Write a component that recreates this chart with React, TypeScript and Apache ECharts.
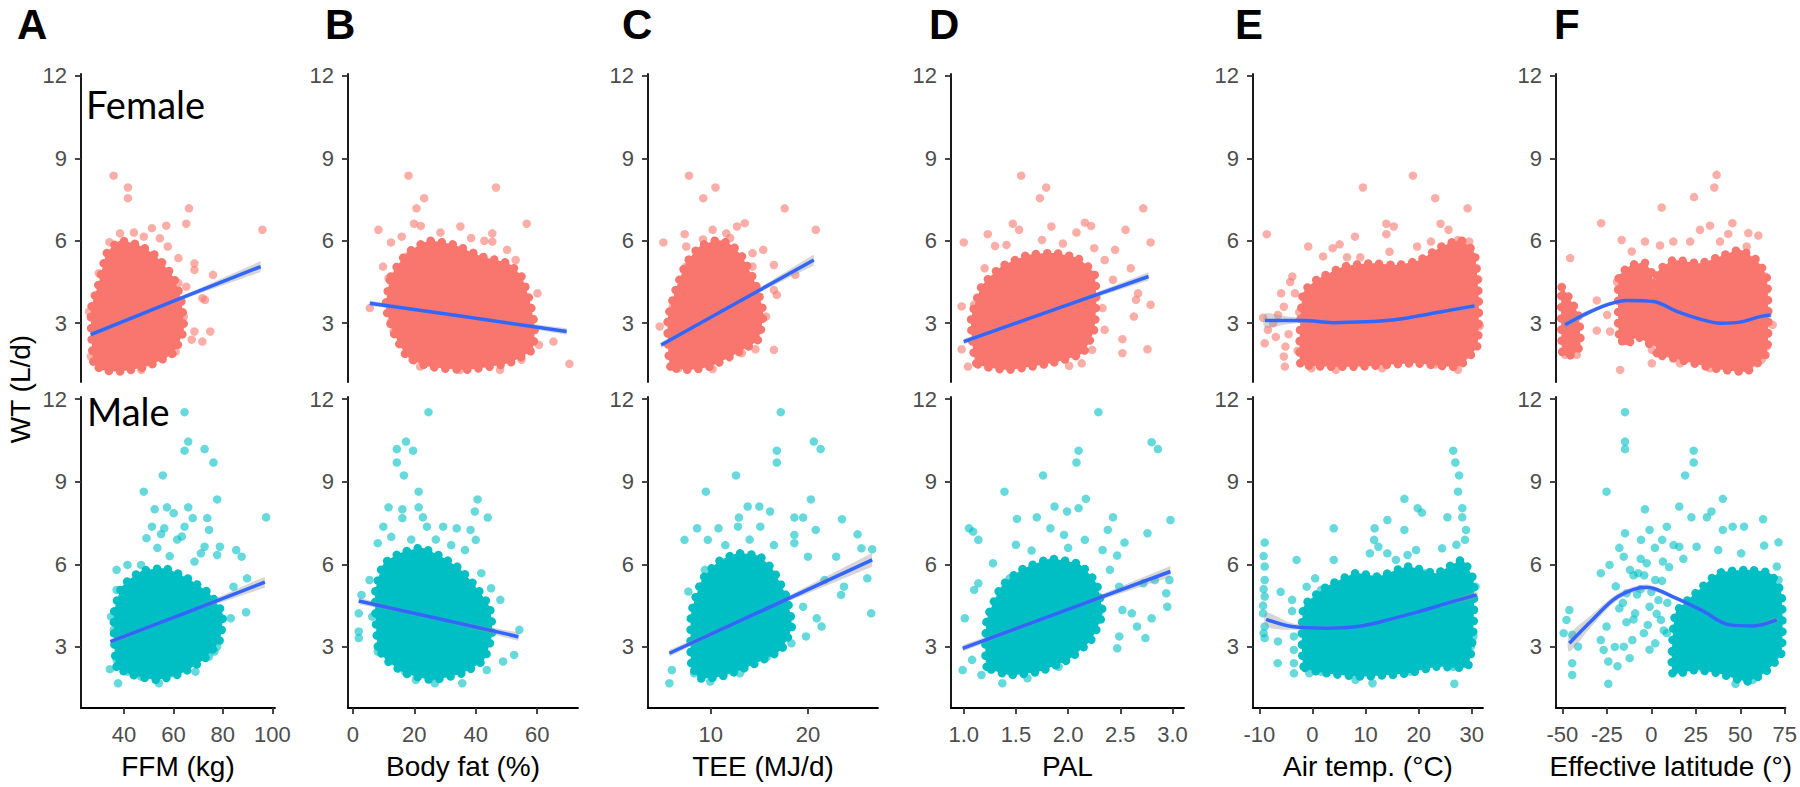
import React, { useEffect, useRef } from "react";
import * as echarts from "echarts";

// ---------- tick labels ----------
const ticksFFM = [40, 60, 80, 100];
const ticksBF = [0, 20, 40, 60];
const ticksTEE = [10, 20];
const ticksPAL = [1.0, 1.5, 2.0, 2.5, 3.0];
const ticksTemp = [-10, 0, 10, 20, 30];
const ticksLat = [-50, -25, 0, 25, 50, 75];
const ticksWT = [3, 6, 9, 12];
const xNames = ["FFM (kg)", "Body fat (%)", "TEE (MJ/d)", "PAL", "Air temp. (\u00B0C)", "Effective latitude (\u00B0)"];
const panelLetters = ["A", "B", "C", "D", "E", "F"];

// ---------- Female ----------
const fFfmPts = [[35.8,8.37],[41.6,7.94],[41.6,7.55],[66.3,7.18],[65.2,6.62],[96.0,6.4],[51.3,6.46],[57.1,6.55],[38.4,6.27],[34.1,5.95],[54.5,6.09],[62.0,5.37],[68.5,5.18],[68.5,4.94],[76.0,4.76],[62.0,4.46],[71.7,3.91],[72.8,3.85],[68.5,2.7],[74.9,2.7],[71.7,2.33],[67.4,2.4],[60.9,1.97],[25.9,3.42],[27.6,2.82],[26.6,1.79],[47.0,1.3],[38.4,1.3],[31.9,1.48],[64.2,3.24],[65.2,4.33],[57.7,5.79],[48.0,6.15],[29.8,4.82],[55.5,5.2],[58.5,2.6],[44.0,6.3]];
const fFfmCore = [[[27.6,1.6],[26.6,3.49],[29.8,4.45],[33.0,5.55],[38.4,6.0],[45.9,5.85],[52.3,5.5],[59.9,4.7],[63.1,3.85],[64.2,2.76],[59.9,1.91],[49.1,1.42],[38.4,1.24],[30.9,1.3]]];
const fFfmFit = [[26.5,2.58,0.12],[60,3.8,0.05],[95.3,5.06,0.2]];

const fBfPts = [[18.1,8.37],[46.6,7.94],[23.2,7.55],[20.7,7.18],[19.9,6.62],[22.1,6.54],[35.0,6.52],[56.6,6.62],[8.3,6.4],[15.9,6.15],[12.4,5.94],[45.4,6.27],[45.4,5.97],[42.8,6.0],[50.2,5.67],[17.6,5.43],[9.8,5.06],[11.6,4.64],[13.3,4.27],[60.1,4.09],[5.5,3.55],[12.4,3.06],[13.3,2.7],[15.9,2.27],[65.3,2.33],[60.6,2.21],[70.5,1.52],[19.4,1.67],[21.9,1.42],[34.9,1.3],[47.9,1.3],[54.9,1.67],[28.5,6.3],[38.5,6.1],[53.0,5.3]];
const fBfCore = [[[12.4,4.7],[17.6,5.55],[24.6,6.0],[33.2,5.85],[41.9,5.43],[50.6,5.18],[54.9,4.7],[57.5,3.85],[59.2,2.88],[58.4,2.03],[50.6,1.54],[36.7,1.3],[24.6,1.42],[17.6,1.79],[13.3,2.64],[10.7,3.6]]];
const fBfFit = [[5.5,3.73,0.1],[35,3.26,0.04],[69.6,2.7,0.12]];

const fTeePts = [[7.76,8.37],[10.49,7.94],[9.23,7.55],[17.6,7.18],[20.8,6.4],[5.13,5.94],[7.32,6.24],[7.48,5.79],[10.2,6.4],[13.5,6.64],[12.7,6.52],[11.6,6.27],[15.4,5.67],[14.3,5.55],[16.5,5.12],[14.3,5.06],[18.7,4.76],[7.48,5.06],[16.5,4.21],[16.8,4.03],[6.12,3.61],[4.75,2.88],[16.5,2.03],[14.6,2.05],[13.2,1.91],[6.67,1.36],[10.2,1.33],[15.7,3.24],[12.0,6.1],[9.2,6.05]];
const fTeeCore = [[[5.85,1.42],[5.57,3.12],[6.39,4.21],[7.48,5.18],[8.85,5.79],[10.76,6.03],[12.13,5.85],[13.22,5.43],[14.59,4.46],[15.41,3.36],[14.86,2.39],[12.68,1.91],[9.94,1.42],[7.76,1.3]]];
const fTeeFit = [[4.9,2.21,0.1],[12.5,3.71,0.04],[20.6,5.3,0.2]];

const fPalPts = [[1.55,8.37],[1.79,7.94],[1.73,7.55],[2.72,7.18],[1.47,6.62],[1.53,6.4],[1.23,6.24],[1.0,5.94],[1.3,5.81],[1.41,5.85],[1.75,6.03],[1.84,6.52],[2.08,6.3],[2.16,6.66],[2.22,6.54],[2.55,6.4],[2.79,5.94],[2.45,5.67],[2.25,5.73],[1.2,5.0],[2.6,5.0],[2.43,4.58],[2.67,4.09],[2.33,3.55],[2.65,3.85],[2.79,3.67],[0.98,3.61],[1.1,3.67],[2.63,3.24],[2.52,2.42],[2.52,1.91],[2.76,2.05],[0.98,2.05],[1.04,1.42],[2.01,1.45],[2.13,1.54],[2.23,2.03],[2.35,2.76],[2.35,5.3],[1.95,5.9]];
const fPalCore = [[[1.12,1.54],[1.07,3.12],[1.17,4.33],[1.36,5.06],[1.62,5.49],[1.88,5.55],[2.09,5.37],[2.25,4.82],[2.27,3.85],[2.25,2.76],[2.14,1.91],[1.83,1.54],[1.41,1.3]]];
const fPalFit = [[1.0,2.33,0.1],[1.9,3.54,0.04],[2.77,4.7,0.15]];

const fTempPts = [[9.5,7.94],[18.9,8.37],[23.1,7.55],[29.2,7.18],[13.9,6.62],[15.3,6.52],[13.9,6.24],[8.0,6.15],[5.1,5.87],[3.8,5.73],[2.0,5.43],[-0.8,5.79],[24.1,6.62],[25.6,6.4],[22.3,5.97],[19.7,5.79],[27.4,6.03],[29.5,5.97],[-0.2,1.36],[4.4,1.3],[13.1,1.36],[27.4,1.3],[-5.2,1.42],[23.0,1.5],[-8.6,6.24],[-9.0,2.27],[-8.4,2.76],[-7.4,3.0],[-6.5,3.3],[-5.4,1.79],[-5.1,2.15],[-3.8,4.7],[-3.3,4.09],[-5.9,4.09],[-5.4,3.6],[-6.9,2.5],[-4.5,2.6],[-2.5,3.4],[-2.8,2.0],[-9.3,3.2],[-4.2,4.5],[31.5,2.9],[31.2,4.6],[9.0,5.4],[14.5,5.6],[6.5,5.4]];
const fTempCore = [[[-2.3,1.54],[-1.8,4.09],[0.77,4.58],[5.9,5.06],[11.0,5.18],[16.1,5.12],[20.2,5.3],[24.3,5.79],[27.9,6.03],[30.5,5.55],[31.3,3.85],[31.0,2.15],[27.4,1.42],[19.2,1.54],[9.0,1.42],[1.8,1.42]]];
const fTempFit = [[-8.96,3.1,0.25],[-5,3.1,0.15],[-1.79,3.1,0.08],[3.85,3.02,0.05],[10.0,3.05,0.05],[15.1,3.12,0.05],[19.2,3.24,0.05],[24.3,3.42,0.06],[30.5,3.63,0.1]];

const fLatPts = [[36.1,8.4],[34.8,7.94],[23.5,7.59],[5.4,7.21],[-28.4,6.64],[-45.7,5.37],[-16.9,6.03],[-11.3,5.61],[-3.9,5.97],[4.5,5.83],[11.9,5.97],[21.3,5.97],[26.8,6.4],[32.4,6.55],[38.0,5.97],[44.9,6.64],[42.6,6.25],[53.8,6.28],[59.4,6.19],[52.9,5.79],[-30.8,3.83],[-30.8,2.73],[-23.4,2.7],[-9.4,2.7],[-0.1,2.03],[-0.1,1.54],[15.7,1.54],[-17.8,1.3],[32.4,1.36],[53.8,1.3],[61.2,1.67],[64.0,2.15],[67.4,2.94],[63.1,4.7],[64.0,4.21],[-48.5,1.85],[-42.0,1.85],[-50.4,4.33],[-19.5,4.5],[-19.0,3.0],[-13.0,4.2],[-8.0,3.6],[-2.0,3.0],[-25.0,3.3]];
const fLatCore = [
  [[2.7,1.91],[2.7,4.82],[12.0,5.3],[26.8,5.18],[38.0,5.43],[49.2,5.67],[58.4,5.3],[64.0,4.7],[65.0,3.36],[64.0,1.91],[52.9,1.24],[34.3,1.36],[15.7,1.67]],
  [[-50.4,4.3],[-46,3.9],[-41,3.3],[-40,2.2],[-44,1.85],[-50,1.85]],
  [[-18.5,2.6],[-18.5,4.7],[-12,5.1],[-4,5.2],[0,4.8],[0.5,2.2],[-8,2.5],[-15,2.2]],
];
const fLatFit = [[-48.5,2.94,0.15],[-38.3,3.3,0.1],[-25.2,3.67,0.07],[-14.1,3.83,0.06],[0.8,3.79,0.06],[13.8,3.43,0.05],[26.8,3.15,0.04],[38.0,3.0,0.04],[49.1,3.04,0.04],[60.3,3.24,0.06],[66.3,3.3,0.12]];

// ---------- Male ----------
const mFfmPts = [[64.5,11.53],[66.0,10.46],[64.5,10.13],[72.6,10.19],[76.2,9.7],[55.7,9.23],[48.0,8.64],[77.7,8.36],[52.4,8.0],[57.4,8.07],[66.0,8.07],[60.1,7.86],[97.5,7.71],[73.7,7.68],[67.8,7.68],[51.3,7.37],[56.3,7.31],[64.5,7.37],[74.4,7.25],[49.1,6.95],[63.4,7.01],[72.6,6.64],[78.8,6.64],[85.4,6.52],[87.6,6.28],[77.7,6.34],[71.1,6.4],[41.4,5.98],[37.0,5.8],[46.9,5.98],[37.0,5.07],[34.8,4.1],[35.9,3.62],[89.8,5.49],[84.3,5.19],[89.4,4.26],[83.2,4.04],[77.7,3.01],[76.6,2.83],[37.0,2.53],[34.3,2.19],[41.4,2.1],[37.6,1.68],[54.1,1.68],[46.9,1.92],[68.9,2.1],[74.4,2.65],[59.0,2.04],[53.5,6.6],[58.5,6.3],[61.5,6.9],[55.0,7.1],[68.5,6.1]];
const mFfmCore = [[[37.0,2.28],[35.9,4.22],[39.2,5.19],[46.9,5.75],[56.8,5.85],[65.6,5.5],[74.4,4.95],[79.9,4.22],[78.8,3.25],[72.2,2.53],[63.4,2.04],[53.5,1.8],[43.6,1.98]]];
const mFfmFit = [[34.5,3.19,0.1],[65,4.24,0.05],[97,5.35,0.2]];

const mBfPts = [[24.6,11.53],[17.3,10.46],[19.6,10.13],[14.3,10.19],[14.3,9.7],[16.6,9.23],[21.4,8.64],[40.6,8.36],[11.6,8.07],[16.1,8.0],[21.4,8.07],[39.7,7.92],[43.9,7.7],[16.1,7.68],[22.8,7.71],[9.9,7.37],[29.4,7.37],[33.8,7.31],[38.3,7.25],[24.1,7.37],[40.0,6.89],[8.1,6.77],[36.5,6.52],[41.8,5.68],[48.0,4.71],[45.0,5.13],[5.4,5.43],[2.8,4.89],[1.9,4.22],[1.9,3.56],[1.9,3.32],[6.3,4.1],[54.2,3.62],[52.5,2.71],[48.9,2.47],[43.6,2.16],[17.0,2.1],[20.5,1.8],[26.7,1.68],[35.6,1.68],[8.1,2.83],[12.5,7.0],[19.0,6.9],[27.0,6.9],[32.0,6.7]];
const mBfCore = [[[8.1,3.01],[7.2,4.95],[9.9,6.0],[15.2,6.4],[22.3,6.6],[28.5,6.3],[34.7,5.85],[40.0,5.19],[44.5,4.46],[45.4,3.5],[42.7,2.53],[35.6,2.04],[25.8,1.8],[17.0,2.04],[10.8,2.53]]];
const mBfFit = [[1.9,4.67,0.12],[28,4.02,0.05],[53.9,3.37,0.15]];

const mTeePts = [[17.2,11.53],[16.8,10.13],[16.8,9.7],[20.6,10.46],[21.3,10.19],[12.6,9.23],[9.5,8.64],[20.3,8.36],[13.8,8.1],[15.0,8.1],[16.1,7.92],[12.9,7.7],[18.6,7.7],[19.5,7.7],[23.5,7.64],[8.6,7.31],[10.8,7.31],[12.8,7.37],[15.1,7.37],[20.8,7.25],[7.3,6.89],[9.7,6.89],[18.6,7.07],[25.1,7.09],[18.6,6.77],[20.0,6.28],[25.5,6.58],[26.6,6.55],[22.9,6.28],[9.4,5.8],[7.7,5.01],[21.7,5.43],[23.7,5.19],[26.1,5.49],[23.4,4.89],[26.5,4.22],[19.5,4.46],[20.9,4.04],[21.4,3.74],[19.8,3.38],[18.3,3.13],[15.8,2.65],[13.0,2.04],[6.0,2.16],[5.75,1.68],[9.95,1.74],[8.3,2.04],[14.0,6.9],[16.5,6.7],[11.5,6.7]];
const mTeeCore = [[[7.99,2.41],[7.99,4.22],[9.11,5.44],[10.79,6.1],[12.75,6.4],[14.99,6.3],[16.39,5.8],[17.79,4.83],[18.35,3.74],[17.23,2.89],[13.87,2.28],[11.07,1.92],[8.83,1.86]]];
const mTeeFit = [[5.75,2.77,0.12],[15,4.27,0.05],[26.6,6.16,0.25]];

const mPalPts = [[2.29,11.53],[2.1,10.13],[2.08,9.7],[2.8,10.44],[2.86,10.19],[1.76,9.23],[1.39,8.64],[2.17,8.38],[2.1,8.04],[1.99,7.92],[1.87,8.1],[2.43,7.71],[2.98,7.61],[1.51,7.65],[1.7,7.71],[1.05,7.31],[1.09,7.19],[1.14,6.89],[1.83,7.31],[2.38,7.25],[2.76,7.13],[2.54,6.79],[1.96,7.07],[2.16,6.89],[1.5,6.71],[2.47,6.32],[2.33,6.52],[1.28,6.04],[1.44,5.49],[1.14,5.31],[1.1,5.07],[1.01,4.04],[2.49,5.19],[2.83,5.43],[2.94,4.95],[2.97,5.43],[2.72,5.31],[2.52,4.34],[2.61,4.22],[2.66,3.74],[2.8,4.04],[2.49,3.38],[2.47,2.95],[2.74,3.32],[2.95,4.46],[0.99,2.16],[1.17,1.98],[1.37,1.68],[1.61,1.86],[1.91,2.28],[1.08,2.53],[1.65,6.5],[2.0,6.6],[2.4,5.8]];
const mPalCore = [[[1.22,2.28],[1.22,3.98],[1.36,5.19],[1.55,5.8],[1.83,6.2],[2.11,6.0],[2.27,5.31],[2.33,4.22],[2.22,3.25],[2.0,2.53],[1.72,2.1],[1.44,1.98]]];
const mPalFit = [[0.99,2.95,0.12],[2.0,4.36,0.05],[2.98,5.74,0.2]];

const mTempPts = [[26.5,10.13],[26.9,9.7],[27.6,9.23],[27.4,8.64],[28.2,8.04],[25.4,7.71],[28.2,7.71],[28.9,7.25],[17.3,8.38],[19.8,8.04],[20.6,7.88],[14.1,7.61],[17.3,7.25],[11.7,7.31],[4.0,7.31],[11.6,6.89],[12.4,6.64],[10.8,6.4],[14.1,6.4],[15.7,6.16],[17.9,6.34],[19.5,6.52],[24.4,6.58],[27.1,6.71],[28.7,6.89],[-3.0,6.16],[4.0,6.16],[0.5,5.49],[1.6,5.07],[21.1,5.68],[25.4,5.68],[30.7,5.19],[30.3,3.38],[29.8,3.01],[26.5,2.28],[26.7,1.66],[21.1,2.53],[18.4,2.1],[15.1,1.98],[11.3,1.68],[8.1,1.8],[4.0,2.28],[1.6,2.1],[-0.6,2.04],[-6.55,2.41],[-9.0,6.79],[-9.0,5.92],[-9.0,5.43],[-9.0,4.83],[-9.3,4.22],[-9.0,3.74],[-9.0,3.32],[-3.84,4.71],[-3.84,4.3],[-3.5,3.38],[-3.5,2.89],[-3.5,2.41],[-3.5,2.04],[-1.1,5.19],[-6.0,5.0],[-6.5,3.2],[-9.2,6.3],[-9.2,5.1],[-9.3,4.5],[-9.2,3.5]];
const mTempCore = [[[-1.67,2.28],[-1.67,4.46],[2.67,5.19],[8.1,5.68],[12.4,5.56],[17.9,5.92],[23.3,5.68],[28.2,6.16],[30.3,5.43],[30.3,3.62],[29.2,2.28],[23.3,2.28],[17.9,2.04],[9.2,1.92],[2.67,2.04]]];
const mTempFit = [[-8.72,4.0,0.25],[-3.84,3.74,0.12],[2.67,3.68,0.06],[9.18,3.76,0.05],[14.6,4.0,0.05],[20.0,4.28,0.05],[25.4,4.59,0.07],[30.9,4.89,0.12]];

const mLatPts = [[-14.8,11.53],[-14.8,10.46],[-14.8,10.19],[23.8,10.13],[23.8,9.7],[19.0,9.23],[-25.2,8.64],[-3.6,8.0],[15.7,8.1],[33.8,7.92],[40.2,8.38],[22.5,7.71],[31.2,7.71],[62.8,7.64],[45.7,7.37],[52.1,7.37],[40.2,7.25],[-14.8,7.13],[-1.0,7.25],[8.7,7.37],[-5.8,6.89],[6.1,6.89],[15.7,6.64],[25.4,6.64],[37.6,6.52],[50.5,6.4],[63.4,6.68],[71.5,6.8],[70.5,5.92],[71.5,5.43],[-28.4,5.68],[-15.5,6.28],[-23.5,5.98],[-2.6,6.04],[-7.4,5.68],[2.2,5.43],[-13.9,4.95],[-1.0,4.46],[-9.1,4.22],[5.4,3.98],[-4.2,3.5],[2.2,3.13],[8.7,3.5],[-10.7,3.25],[-25.2,3.74],[-28.4,3.25],[-26.8,2.89],[-24.2,2.47],[-24.2,1.66],[-15.5,3.01],[-12.2,2.59],[-46.1,4.34],[-47.7,3.98],[-44.5,3.44],[-41.2,3.01],[-44.5,2.41],[-44.5,1.98],[-49.3,3.5],[11.9,2.83],[16.7,2.47],[47.3,1.66],[57.0,1.8],[69.8,3.38],[-6.0,5.1],[4.0,4.7],[-18.0,4.4],[-10.0,5.6],[6.5,6.1],[-20.0,5.2],[-16.0,4.6],[-12.0,5.8],[-8.0,4.9],[-4.0,5.6],[0.0,5.0],[3.0,4.2],[6.0,5.4],[9.0,4.6],[-2.0,3.8],[-14.0,3.9],[-6.0,6.2],[2.0,6.6],[-18.0,6.6],[10.0,5.9],[-10.0,4.0],[7.0,3.6],[-20.5,3.0],[-19.0,2.3],[-1.0,2.9],[12.5,6.7],[18.0,6.2]];
const mLatCore = [[[11.9,2.04],[13.5,4.22],[24.8,4.95],[37.6,5.68],[53.7,5.8],[66.6,5.68],[73.1,4.95],[73.1,2.77],[63.4,2.04],[53.7,1.74],[37.6,2.04],[24.8,2.16]]];
const mLatFit = [[-46.1,3.13,0.3],[-33.2,3.98,0.2],[-18.7,4.83,0.12],[-2.6,5.17,0.1],[11.9,4.83,0.07],[28.0,4.34,0.06],[44.1,3.8,0.05],[57.0,3.76,0.05],[70.5,3.98,0.1]];

// ---------- layout ----------
const FONT = "Liberation Sans, Arial, Helvetica, sans-serif";
const FEMALE = "#F8766D";
const MALE = "#00BFC4";
const cols = [
  { left: 81, width: 194, min: 22.6, max: 101.1, ticks: ticksFFM, dec: 0 },
  { left: 348, width: 230, min: -1.6, max: 73.3, ticks: ticksBF, dec: 0 },
  { left: 648, width: 230, min: 3.55, max: 27.2, ticks: ticksTEE, dec: 0 },
  { left: 951, width: 233, min: 0.878, max: 3.11, ticks: ticksPAL, dec: 1 },
  { left: 1253, width: 230, min: -11.2, max: 32.1, ticks: ticksTemp, dec: 0 },
  { left: 1556, width: 231, min: -53.6, max: 75.4, ticks: ticksLat, dec: 0 },
];
const rows = [
  { top: 74, height: 308, min: 0.86, max: 12.07 },
  { top: 397, height: 311, min: 0.78, max: 12.08 },
];

const panels = [
  { pts: fFfmPts, core: fFfmCore, fit: fFfmFit, smooth: false },
  { pts: fBfPts, core: fBfCore, fit: fBfFit, smooth: false },
  { pts: fTeePts, core: fTeeCore, fit: fTeeFit, smooth: false },
  { pts: fPalPts, core: fPalCore, fit: fPalFit, smooth: false },
  { pts: fTempPts, core: fTempCore, fit: fTempFit, smooth: true },
  { pts: fLatPts, core: fLatCore, fit: fLatFit, smooth: true },
  { pts: mFfmPts, core: mFfmCore, fit: mFfmFit, smooth: false },
  { pts: mBfPts, core: mBfCore, fit: mBfFit, smooth: false },
  { pts: mTeePts, core: mTeeCore, fit: mTeeFit, smooth: false },
  { pts: mPalPts, core: mPalCore, fit: mPalFit, smooth: false },
  { pts: mTempPts, core: mTempCore, fit: mTempFit, smooth: true },
  { pts: mLatPts, core: mLatCore, fit: mLatFit, smooth: true },
];

function buildOption() {
  const grid: any[] = [];
  const xAxis: any[] = [];
  const yAxis: any[] = [];
  const series: any[] = [];
  panels.forEach((p, i) => {
    const r = Math.floor(i / 6);
    const c = i % 6;
    const col = cols[c];
    const row = rows[r];
    const color = r === 0 ? FEMALE : MALE;
    grid.push({ left: col.left, top: row.top, width: col.width, height: row.height, containLabel: false });
    const bottom = r === 1;
    xAxis.push({
      type: "value",
      gridIndex: i,
      min: col.min,
      max: col.max,
      show: bottom,
      name: bottom ? xNames[c] : "",
      nameLocation: "middle",
      nameGap: 44,
      nameTextStyle: { fontFamily: FONT, fontSize: 28, color: "#000" },
      axisLine: { show: true, onZero: false, lineStyle: { color: "#000", width: 1.8 } },
      axisTick: { show: true, length: 6, customValues: col.ticks, lineStyle: { color: "#333", width: 1.8 } },
      axisLabel: {
        show: true,
        customValues: col.ticks,
        margin: 15,
        fontFamily: FONT,
        fontSize: 22,
        color: "#4D4D4D",
        formatter: (v: number) => v.toFixed(col.dec),
      },
      splitLine: { show: false },
    });
    yAxis.push({
      type: "value",
      gridIndex: i,
      min: row.min,
      max: row.max,
      axisLine: { show: true, onZero: false, lineStyle: { color: "#000", width: 1.8 } },
      axisTick: { show: true, length: 6, customValues: ticksWT, lineStyle: { color: "#333", width: 1.8 } },
      axisLabel: { show: true, customValues: ticksWT, margin: 14, fontFamily: FONT, fontSize: 22, color: "#4D4D4D" },
      splitLine: { show: false },
    });
    const core = p.core;
    series.push({
      type: "custom",
      xAxisIndex: i,
      yAxisIndex: i,
      silent: true,
      z: 1,
      data: core.map((poly, k) => [poly[0][0], poly[0][1], k]),
      renderItem: (params: any, api: any) => {
        const poly = core[api.value(2)];
        return {
          type: "polygon",
          shape: { points: poly.map((q) => api.coord(q)), smooth: 0.15 },
          style: {
            fill: color,
            stroke: color,
            lineWidth: 8.5,
            lineDash: [0.1, 11],
            lineCap: "round",
            lineJoin: "round",
            opacity: 1,
          },
        };
      },
    });
    series.push({
      type: "scatter",
      xAxisIndex: i,
      yAxisIndex: i,
      z: 2,
      silent: true,
      symbolSize: 8.5,
      data: p.pts,
      itemStyle: { color, opacity: 0.6 },
    });
    const fit = p.fit;
    series.push({
      type: "custom",
      xAxisIndex: i,
      yAxisIndex: i,
      silent: true,
      z: 3,
      data: [[fit[0][0], fit[0][1]]],
      renderItem: (params: any, api: any) => {
        const up = fit.map((f) => api.coord([f[0], f[1] + f[2]]));
        const lo = fit.map((f) => api.coord([f[0], f[1] - f[2]])).reverse();
        return {
          type: "polygon",
          shape: { points: up.concat(lo), smooth: p.smooth ? 0.3 : 0 },
          style: { fill: "#999999", opacity: 0.4 },
        };
      },
    });
    series.push({
      type: "line",
      xAxisIndex: i,
      yAxisIndex: i,
      z: 4,
      silent: true,
      symbol: "none",
      smooth: p.smooth ? 0.35 : false,
      data: fit.map((f) => [f[0], f[1]]),
      lineStyle: { color: "#3366FF", width: 3.5 },
    });
  });

  const letterX = [17, 325, 622, 929, 1235, 1554];
  const graphic: any[] = panelLetters.map((L, k) => ({
    type: "text",
    x: letterX[k],
    y: 24,
    style: { text: L, fontFamily: FONT, fontSize: 42, fontWeight: "bold", fill: "#000", align: "left", verticalAlign: "middle" },
  }));
  graphic.push({
    type: "text",
    x: 86,
    y: 104,
    style: { text: "Female", fontFamily: "Lato, Open Sans, sans-serif", fontSize: 38, fill: "#000", align: "left", verticalAlign: "middle" },
  });
  graphic.push({
    type: "text",
    x: 87,
    y: 411,
    style: { text: "Male", fontFamily: "Lato, Open Sans, sans-serif", fontSize: 38, fill: "#000", align: "left", verticalAlign: "middle" },
  });
  graphic.push({
    type: "text",
    x: 20,
    y: 389,
    rotation: Math.PI / 2,
    style: { text: "WT (L/d)", fontFamily: FONT, fontSize: 28, fill: "#000", align: "center", verticalAlign: "middle" },
  });

  return { animation: false, backgroundColor: "#fff", grid, xAxis, yAxis, series, graphic };
}

export default function App() {
  const ref = useRef<HTMLDivElement>(null);
  useEffect(() => {
    if (!ref.current) return;
    const chart = echarts.init(ref.current, null, { renderer: "svg" });
    chart.setOption(buildOption());
    return () => chart.dispose();
  }, []);
  return <div ref={ref} style={{ position: "absolute", left: 0, top: 0, width: 1800, height: 787, background: "#fff" }} />;
}
